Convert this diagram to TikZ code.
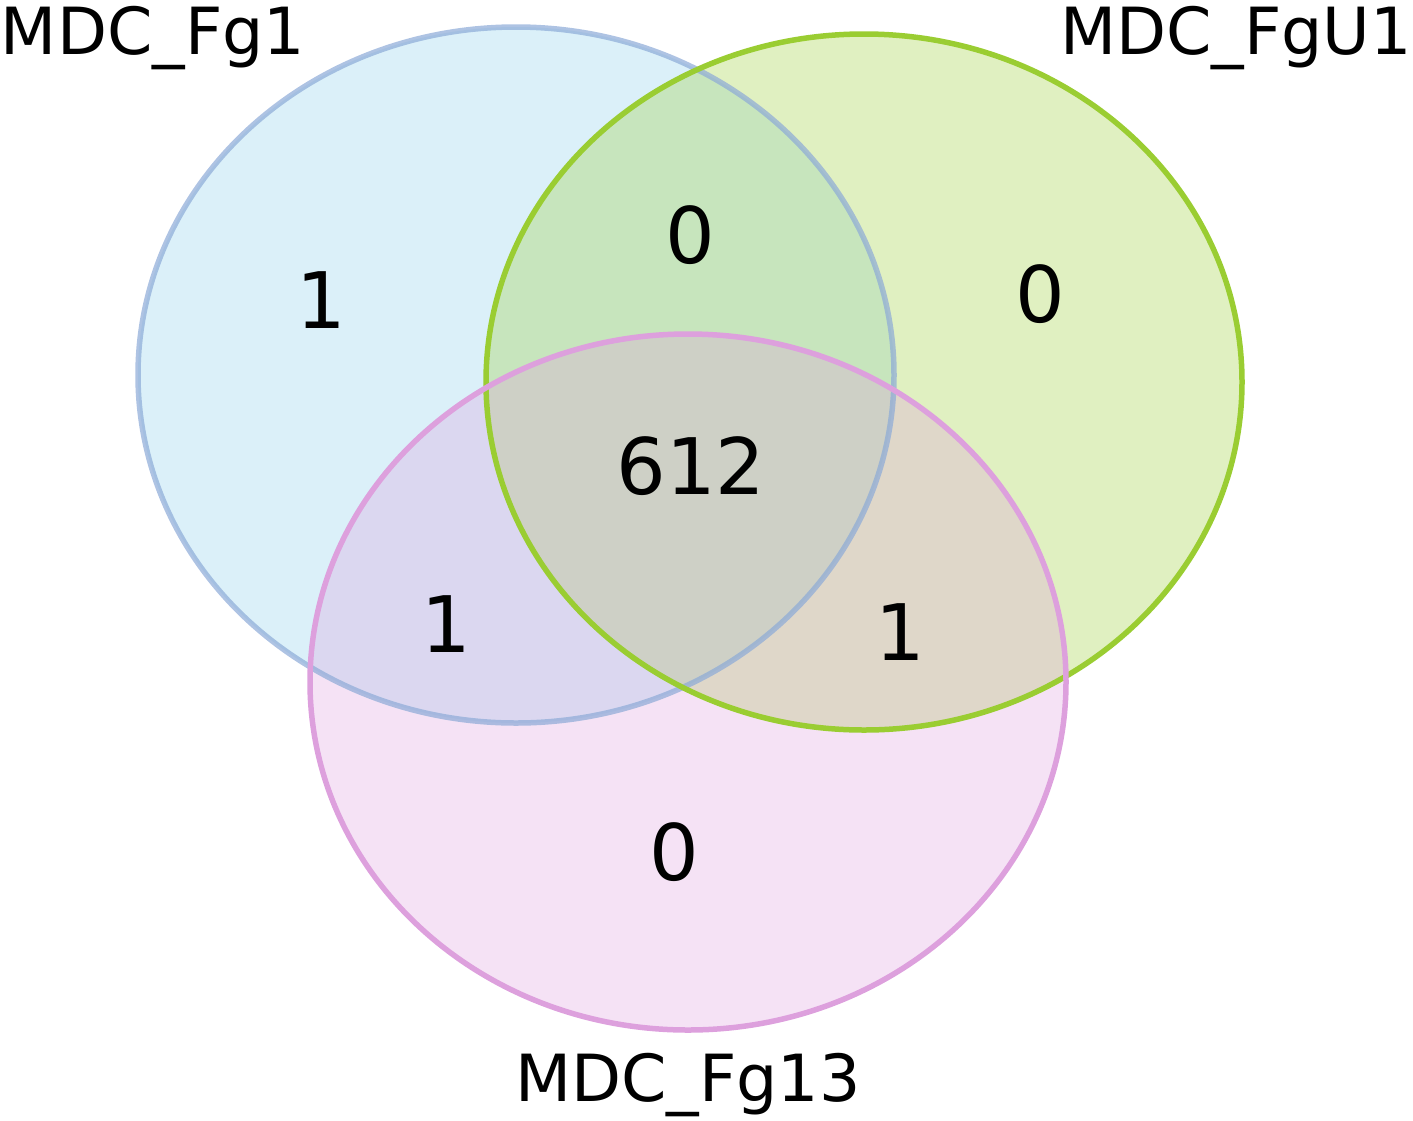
\documentclass[tikz,border=0pt]{standalone}
\usepackage{fontspec}
\setmainfont{DejaVu Sans}
\definecolor{cBlue}{RGB}{135,206,235}
\definecolor{cGreen}{RGB}{154,205,50}
\definecolor{cPink}{RGB}{221,160,221}
\definecolor{sBlue}{RGB}{140,170,215}
\begin{document}
\begin{tikzpicture}[x=1pt,y=-1pt,
  setfill/.style={fill opacity=0.3},
  setline/.style={line width=5.5pt},
  lab/.style={inner sep=0pt,anchor=base,font=\fontsize{65}{78}\selectfont},
  num/.style={inner sep=0pt,anchor=base,font=\fontsize{78}{90}\selectfont}]
\useasboundingbox (0,0) rectangle (1413,1120);
% fills
\fill[cBlue,setfill] (516,375) ellipse [x radius=378, y radius=348];
\fill[cGreen,setfill] (864,382) ellipse [x radius=378, y radius=348];
\fill[cPink,setfill] (688,682) ellipse [x radius=378, y radius=348];
% outlines
\draw[sBlue,setline,draw opacity=0.7] (516,375) ellipse [x radius=378, y radius=348];
\draw[cGreen,setline] (864,382) ellipse [x radius=378, y radius=348];
\draw[cPink,setline] (688,682) ellipse [x radius=378, y radius=348];
% set labels
\node[lab] (la) at (153,54) {MDC\_Fg1};
\node[lab] (lb) at (1236,54) {MDC\_FgU1};
\node[lab] (lc) at (688,1101) {MDC\_Fg13};
% counts
\node[num] (nA) at (321,328) {1};
\node[num] (nAB) at (690,263) {0};
\node[num] (nB) at (1040,322) {0};
\node[num] (nABC) at (691,494) {612};
\node[num] (nAC) at (446,652) {1};
\node[num] (nBC) at (900,660) {1};
\node[num] (nC) at (674,880) {0};
\end{tikzpicture}
\end{document}
